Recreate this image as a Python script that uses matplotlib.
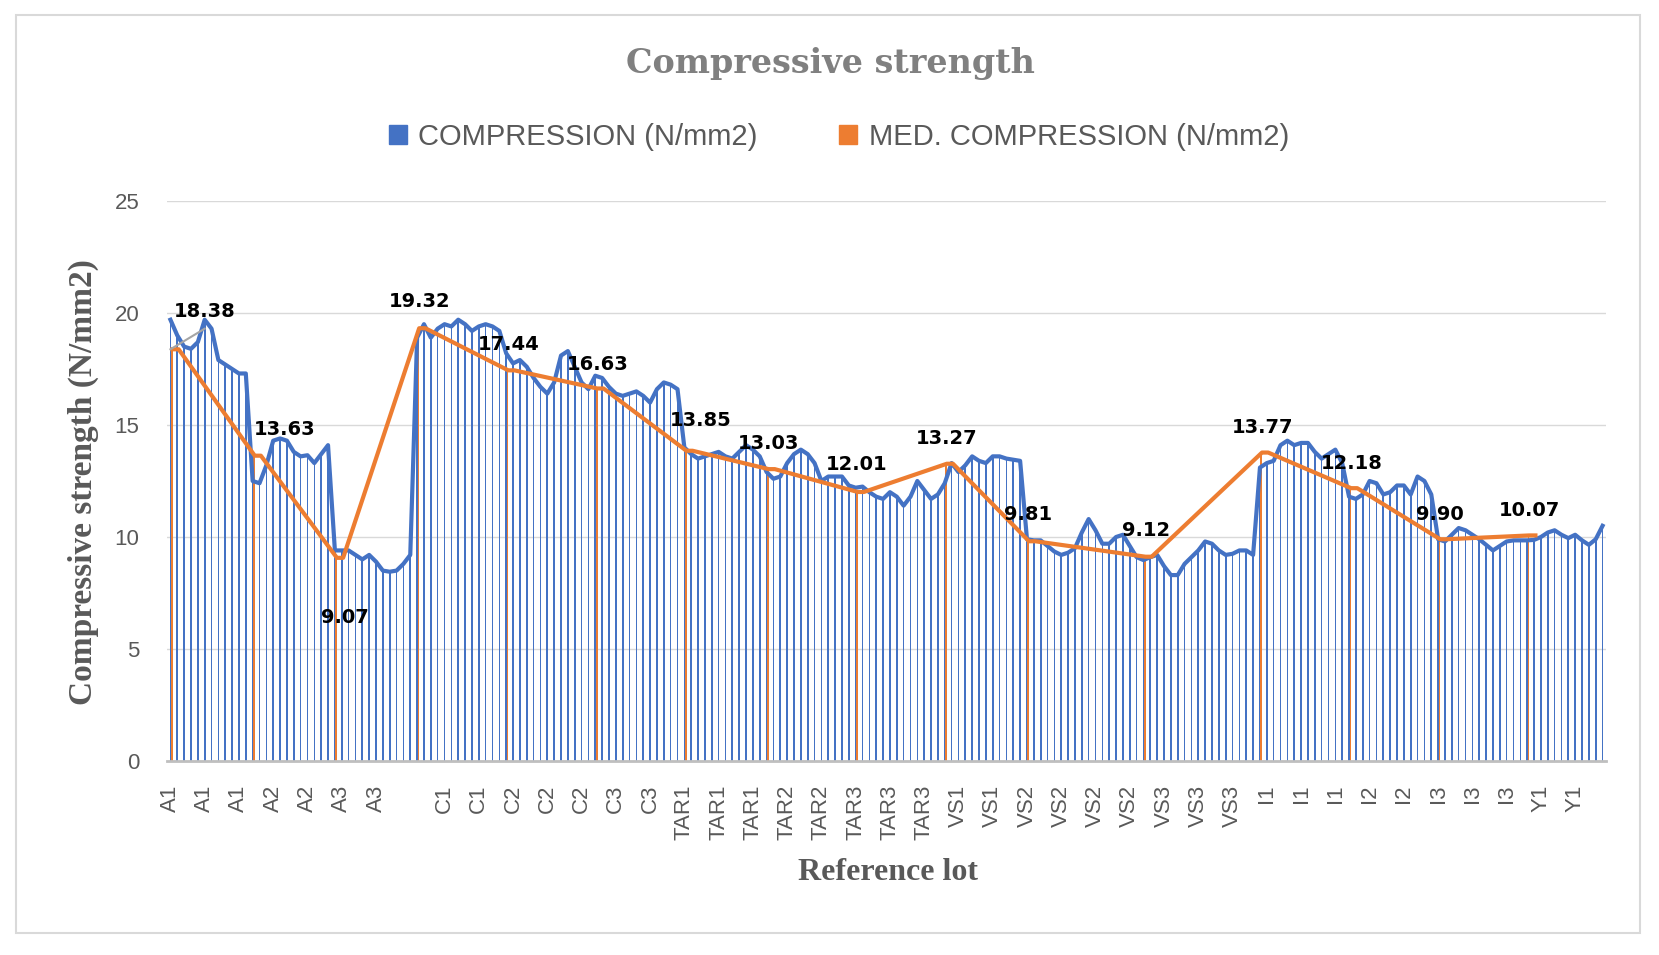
import matplotlib
matplotlib.use('Agg')
import matplotlib.pyplot as plt
import numpy as np
from matplotlib.patches import Rectangle

# compressive strength per sample (N/mm2)
compression = [
    19.7, 19.0, 18.5, 18.4, 18.7, 19.7, 19.3, 17.9, 17.7, 17.5, 17.3, 17.3,    # A1
    12.5, 12.4, 13.2, 14.3, 14.4, 14.3, 13.8, 13.6, 13.65, 13.3, 13.7, 14.1,   # A2
    9.4, 9.4, 9.4, 9.2, 9.0, 9.2, 8.9, 8.5, 8.45, 8.5, 8.8, 9.2,               # A3
    18.9, 19.5, 18.9, 19.3, 19.5, 19.4, 19.7, 19.5, 19.2, 19.4, 19.5, 19.4, 19.2,  # C1
    18.2, 17.75, 17.9, 17.6, 17.1, 16.7, 16.4, 16.9, 18.1, 18.3, 17.6, 16.9, 16.6,  # C2
    17.2, 17.1, 16.7, 16.4, 16.3, 16.4, 16.5, 16.3, 16.0, 16.6, 16.9, 16.8, 16.6,  # C3
    14.0, 13.7, 13.5, 13.6, 13.7, 13.8, 13.6, 13.5, 13.8, 14.1, 13.9, 13.6,    # TAR1
    12.9, 12.6, 12.7, 13.3, 13.7, 13.9, 13.7, 13.3, 12.5, 12.7, 12.7, 12.7, 12.3,  # TAR2
    12.2, 12.25, 12.0, 11.8, 11.7, 12.0, 11.8, 11.4, 11.8, 12.5, 12.1, 11.7, 11.9,  # TAR3
    12.4, 13.3, 12.9, 13.2, 13.6, 13.4, 13.3, 13.6, 13.6, 13.5, 13.45, 13.4,   # VS1
    9.9, 9.85, 9.85, 9.6, 9.35, 9.2, 9.3, 9.5, 10.2, 10.8, 10.3, 9.7, 9.7,
    10.0, 10.1, 9.6, 9.1,                                                      # VS2
    8.97, 9.1, 9.2, 8.7, 8.3, 8.3, 8.8, 9.1, 9.4, 9.8, 9.7, 9.4, 9.2,
    9.25, 9.4, 9.4, 9.2,                                                       # VS3
    13.1, 13.3, 13.4, 14.1, 14.3, 14.1, 14.2, 14.2, 13.8, 13.5, 13.7, 13.9, 13.3,  # I1
    11.8, 11.7, 11.9, 12.5, 12.4, 11.9, 12.0, 12.3, 12.3, 11.9, 12.7, 12.5, 11.9,  # I2
    9.9, 9.8, 10.1, 10.4, 10.3, 10.1, 9.9, 9.65, 9.4, 9.6, 9.8, 9.85, 9.85,    # I3
    9.85, 9.87, 10.0, 10.2, 10.3, 10.1, 9.95, 10.1, 9.85, 9.65, 9.9, 10.5,     # Y1
]

# median of each lot, placed on the first sample of the lot
med_idx = [0, 12, 24, 36, 49, 62, 75, 87, 100, 113, 125, 142, 159, 172, 185, 198]
med_vals = [18.38, 13.63, 9.07, 19.32, 17.44, 16.63, 13.85, 13.03, 12.01, 13.27,
            9.81, 9.12, 13.77, 12.18, 9.90, 10.07]

# short grey series at the very start
gray_idx = [0, 5]
gray_vals = [18.38, 19.3]

# every 5th category label as shown on the axis
tick_labels = ['A1', 'A1', 'A1', 'A2', 'A2', 'A3', 'A3', '', 'C1', 'C1',
               'C2', 'C2', 'C2', 'C3', 'C3', 'TAR1', 'TAR1', 'TAR1', 'TAR2', 'TAR2',
               'TAR3', 'TAR3', 'TAR3', 'VS1', 'VS1', 'VS2', 'VS2', 'VS2', 'VS2', 'VS3',
               'VS3', 'VS3', 'I1', 'I1', 'I1', 'I2', 'I2', 'I3', 'I3', 'I3', 'Y1', 'Y1']

# label offsets in pixels (style only)
label_off = [(34, 38), (32, 26), (10, -60), (3, 27), (2, 26), (2, 24), (16, 30), (2, 26),
             (1, 27), (2, 25), (1, 27), (3, 26), (3, 25), (3, 25), (2, 25), (2, 25)]

plt.rcParams['font.family'] = ['Liberation Sans', 'DejaVu Sans']

W, H = 1659, 955
fig = plt.figure(figsize=(W / 100, H / 100), dpi=100)
ax = fig.add_axes([167 / W, 1 - 761 / H, 1439 / W, 560 / H])

blue = '#4472C4'
orange = '#ED7D31'
x = np.arange(len(compression))

ax.bar(x, compression, width=0.24, color=blue, zorder=2)
ax.bar(np.array(med_idx) + 0.2, med_vals, width=0.26, color=orange, zorder=2)
ax.plot(x, compression, color=blue, lw=3, zorder=3, solid_joinstyle='round')

ox = (np.repeat(med_idx, 2) + np.tile([0.3, 1.2], len(med_idx)))
oy = np.repeat(med_vals, 2)
ax.plot(ox, oy, color=orange, lw=3, zorder=4, solid_joinstyle='round')
ax.plot(gray_idx, gray_vals, color='#A5A5A5', lw=1.5, zorder=4)

for i, m, (dx, dy) in zip(med_idx, med_vals, label_off):
    ax.annotate('%.2f' % m, (i, m), xytext=(dx, dy), textcoords='offset pixels',
                ha='center', va='center', fontsize=14, fontweight='bold',
                family='DejaVu Sans', color='black', zorder=6)

ax.set_xlim(-0.5, len(compression) - 0.5)
ax.set_ylim(0, 25)
ax.set_yticks(range(0, 26, 5))
ax.set_xticks(range(0, len(compression), 5))
ax.set_xticklabels(tick_labels, rotation=90)
ax.tick_params(axis='both', length=0, labelcolor='#595959')
ax.tick_params(axis='y', labelsize=16, pad=20)
ax.tick_params(axis='x', labelsize=16, pad=17)
ax.grid(axis='y', color='#D9D9D9', lw=1, zorder=0)
ax.set_axisbelow(True)
for s in ['top', 'right', 'left']:
    ax.spines[s].set_visible(False)
ax.spines['bottom'].set_color('#BFBFBF')
ax.spines['bottom'].set_linewidth(2)

fig.text(830 / W, 1 - 64 / H, 'Compressive strength', ha='center', va='center',
         family='DejaVu Serif', fontweight='bold', fontsize=24, color='#808080')
fig.text(83 / W, 1 - 482 / H, 'Compressive strength (N/mm2)', rotation=90,
         ha='center', va='center', family='Liberation Serif', fontweight='bold',
         fontsize=24, color='#595959')
fig.text(888 / W, 1 - 872 / H, 'Reference lot', ha='center', va='center',
         family='Liberation Serif', fontweight='bold', fontsize=23, color='#595959')

h1 = Rectangle((0, 0), 1, 1, color=blue)
h2 = Rectangle((0, 0), 1, 1, color=orange)
fig.legend([h1, h2], ['COMPRESSION (N/mm2)', 'MED. COMPRESSION (N/mm2)'],
           loc='center', bbox_to_anchor=(839 / W, 1 - 137 / H), ncol=2, frameon=False,
           fontsize=21, labelcolor='#595959', handlelength=0.6, handleheight=0.6,
           handletextpad=0.4, columnspacing=2.8)

fig.patches.append(Rectangle((16 / W, 1 - 933 / H), 1624 / W, 918 / H,
                             transform=fig.transFigure, fill=False,
                             edgecolor='#D9D9D9', lw=1.5))

fig.savefig('out.png', dpi=100)
